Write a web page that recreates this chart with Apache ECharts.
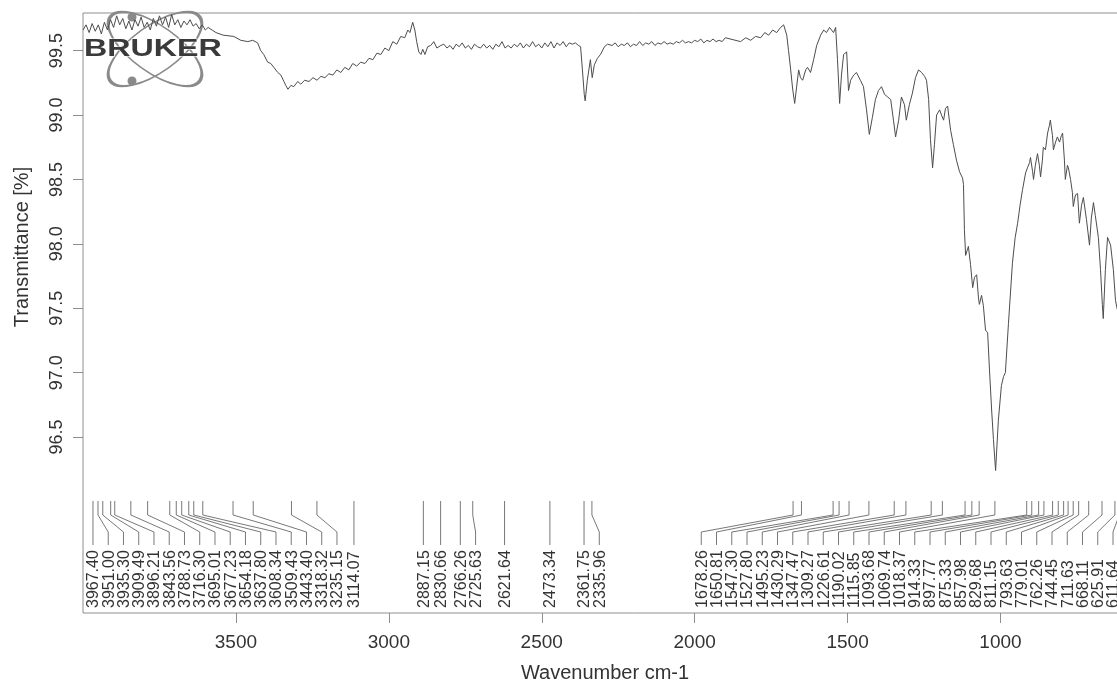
<!DOCTYPE html>
<html>
<head>
<meta charset="utf-8">
<title>IR spectrum</title>
<script src="https://cdn.jsdelivr.net/npm/echarts@6.0.0/dist/echarts.min.js"></script>
<style>
  html, body { margin: 0; padding: 0; background: #fff; overflow: hidden; }
  #main { width: 1200px; height: 682px; }
</style>
</head>
<body>
<div id="main"></div>
<script>
// spectrum, [wavenumber cm-1, transmittance %]
const specOH = [
  [4000, 99.66], [3990, 99.70], [3980, 99.64], [3970, 99.71], [3960, 99.65], [3950, 99.70],
  [3940, 99.63], [3930, 99.72], [3920, 99.66], [3910, 99.74], [3900, 99.68], [3890, 99.77],
  [3880, 99.70], [3870, 99.75], [3860, 99.67], [3850, 99.73], [3840, 99.66], [3830, 99.74],
  [3820, 99.69], [3810, 99.76], [3800, 99.68], [3790, 99.72], [3780, 99.66], [3770, 99.75],
  [3760, 99.69], [3750, 99.77], [3740, 99.70], [3730, 99.76], [3720, 99.68], [3710, 99.78],
  [3700, 99.70], [3690, 99.74], [3680, 99.68], [3670, 99.73], [3660, 99.70], [3650, 99.74],
  [3640, 99.69], [3630, 99.71], [3620, 99.67], [3610, 99.70], [3600, 99.66], [3591, 99.68],
  [3565, 99.64], [3542, 99.62], [3507, 99.61], [3484, 99.58], [3461, 99.57], [3445, 99.58],
  [3429, 99.56], [3419, 99.50], [3409, 99.47], [3396, 99.41], [3386, 99.40], [3376, 99.37],
  [3363, 99.33], [3353, 99.31], [3343, 99.26], [3337, 99.23], [3330, 99.20], [3320, 99.23],
  [3311, 99.22], [3298, 99.26], [3288, 99.24], [3275, 99.27], [3261, 99.26], [3248, 99.29],
  [3235, 99.27], [3222, 99.30], [3209, 99.29], [3196, 99.32], [3183, 99.31], [3170, 99.35],
  [3157, 99.33], [3144, 99.37], [3131, 99.35], [3118, 99.40], [3105, 99.38], [3092, 99.41],
  [3078, 99.40], [3065, 99.44], [3052, 99.43], [3039, 99.48], [3026, 99.47], [3013, 99.52],
  [3000, 99.50], [2987, 99.57], [2974, 99.55], [2961, 99.61], [2948, 99.60], [2938, 99.66],
  [2931, 99.64], [2922, 99.72], [2915, 99.66], [2909, 99.57], [2902, 99.49], [2895, 99.47],
  [2889, 99.51], [2882, 99.47], [2873, 99.53], [2863, 99.54], [2853, 99.57], [2843, 99.52],
  [2830, 99.54]
]
const specMid = [
  [2820, 99.55], [2810, 99.52], [2800, 99.54], [2790, 99.51], [2780, 99.55], [2770, 99.53],
  [2760, 99.56], [2750, 99.52], [2740, 99.54], [2730, 99.51], [2720, 99.55], [2710, 99.53],
  [2700, 99.52], [2690, 99.55], [2680, 99.52], [2670, 99.54], [2660, 99.51], [2650, 99.55],
  [2640, 99.53], [2630, 99.57], [2620, 99.52], [2610, 99.54], [2600, 99.52], [2590, 99.55],
  [2580, 99.53], [2570, 99.56], [2560, 99.52], [2550, 99.55], [2540, 99.53], [2530, 99.57],
  [2520, 99.53], [2510, 99.55], [2500, 99.52], [2490, 99.56], [2480, 99.53], [2470, 99.57],
  [2460, 99.52], [2450, 99.56], [2440, 99.54], [2430, 99.57], [2420, 99.53], [2410, 99.56],
  [2400, 99.55], [2390, 99.56], [2380, 99.54], [2373, 99.53], [2367, 99.35], [2361, 99.16],
  [2358, 99.11], [2351, 99.27], [2341, 99.43], [2335, 99.29], [2328, 99.39], [2318, 99.44],
  [2308, 99.47], [2295, 99.53], [2285, 99.55], [2270, 99.54], [2260, 99.56], [2250, 99.53],
  [2240, 99.55], [2230, 99.54], [2220, 99.56], [2210, 99.53], [2200, 99.55], [2190, 99.54],
  [2180, 99.57], [2170, 99.54], [2160, 99.56], [2150, 99.55], [2140, 99.57], [2130, 99.54],
  [2120, 99.56], [2110, 99.55], [2100, 99.57], [2090, 99.55], [2080, 99.56], [2070, 99.55],
  [2060, 99.57], [2050, 99.56], [2040, 99.58], [2030, 99.56], [2020, 99.57], [2010, 99.56],
  [2000, 99.58], [1990, 99.57], [1980, 99.59], [1970, 99.56], [1960, 99.58], [1950, 99.57],
  [1940, 99.59], [1930, 99.57], [1920, 99.58], [1910, 99.57], [1900, 99.60]
]
const specFinger = [
  [1850, 99.57], [1833, 99.60], [1817, 99.58], [1801, 99.61], [1784, 99.60], [1771, 99.64],
  [1758, 99.62], [1745, 99.66], [1732, 99.64], [1719, 99.68], [1709, 99.70], [1699, 99.62],
  [1693, 99.50], [1686, 99.35], [1680, 99.21], [1673, 99.09], [1667, 99.21], [1660, 99.35],
  [1654, 99.29], [1647, 99.27], [1637, 99.35], [1631, 99.37], [1621, 99.33], [1611, 99.43],
  [1601, 99.54], [1588, 99.62], [1578, 99.66], [1569, 99.64], [1559, 99.68], [1546, 99.64],
  [1539, 99.68], [1533, 99.43], [1526, 99.09], [1520, 99.31], [1513, 99.47], [1503, 99.49],
  [1497, 99.19], [1490, 99.27], [1480, 99.31], [1471, 99.33], [1458, 99.27], [1448, 99.22],
  [1438, 99.04], [1429, 98.85], [1419, 98.98], [1409, 99.12], [1399, 99.19], [1389, 99.22],
  [1379, 99.16], [1369, 99.14], [1359, 99.12], [1350, 98.96], [1343, 98.83], [1333, 98.96],
  [1324, 99.14], [1314, 99.08], [1308, 98.96], [1298, 99.08], [1288, 99.17], [1278, 99.29],
  [1268, 99.35], [1258, 99.33], [1248, 99.30], [1242, 99.27], [1235, 99.12], [1229, 98.81],
  [1222, 98.59], [1216, 98.77], [1209, 99.00], [1199, 99.04], [1193, 99.00], [1186, 98.96],
  [1180, 99.05], [1173, 99.07], [1163, 98.88], [1154, 98.77], [1144, 98.65], [1134, 98.56],
  [1124, 98.51], [1121, 98.46], [1118, 98.11], [1114, 97.91], [1108, 97.91], [1105, 97.98],
  [1098, 97.84], [1091, 97.66], [1085, 97.74], [1078, 97.76], [1072, 97.58], [1069, 97.53],
  [1062, 97.60], [1056, 97.52], [1049, 97.33], [1042, 97.31], [1036, 97.02], [1029, 96.71],
  [1023, 96.48], [1016, 96.24], [1007, 96.63], [997, 96.90], [990, 96.97], [984, 97.00],
  [974, 97.38], [961, 97.85], [952, 98.05], [944, 98.16], [936, 98.30], [928, 98.42],
  [918, 98.55], [912, 98.59], [905, 98.63], [902, 98.67], [895, 98.56], [892, 98.50],
  [886, 98.61], [879, 98.70], [873, 98.61], [869, 98.52], [863, 98.65], [860, 98.75],
  [853, 98.73], [846, 98.86], [840, 98.92], [837, 98.96], [830, 98.84], [827, 98.73],
  [820, 98.79], [814, 98.83], [807, 98.79], [801, 98.84], [797, 98.86], [791, 98.65],
  [788, 98.50], [781, 98.61], [778, 98.59], [771, 98.50], [765, 98.40], [762, 98.29],
  [755, 98.38], [748, 98.39], [742, 98.16], [735, 98.30], [729, 98.36], [719, 98.19],
  [709, 97.99], [703, 98.20], [696, 98.32], [690, 98.22], [680, 98.05], [673, 97.80],
  [667, 97.53], [664, 97.42], [657, 97.80], [650, 98.05], [640, 97.99], [631, 97.80],
  [624, 97.56], [618, 97.49], [608, 97.72]
]

// peak picking table
const peaksOH = [3967.40, 3951.00, 3935.30, 3909.49, 3896.21, 3843.56, 3788.73, 3716.30, 3695.01,
  3677.23, 3654.18, 3637.80, 3608.34, 3509.43, 3443.40, 3318.32, 3235.15, 3114.07]
const peaksMid = [2887.15, 2830.66, 2766.26, 2725.63, 2621.64, 2473.34, 2361.75, 2335.96]
const peaksFinger = [1678.26, 1650.81, 1547.30, 1527.80, 1495.23, 1430.29, 1347.47, 1309.27,
  1226.61, 1190.02, 1115.85, 1093.68, 1069.74, 1018.37, 914.33, 897.77, 875.33, 857.98, 829.68,
  811.15, 793.63, 779.01, 762.26, 744.45, 711.63, 668.11, 625.91, 611.64]

const xTicks = [3500, 3000, 2500, 2000, 1500, 1000]
const yTicks = [96.5, 97.0, 97.5, 98.0, 98.5, 99.0, 99.5]

const spectrum = specOH.concat(specMid, specFinger)
const peaks = peaksOH.concat(peaksMid, peaksFinger)

const FONT = '"Liberation Sans", Arial, Helvetica, sans-serif'
const LABEL_GAP = 15.25

// spread peak labels so they do not overlap (left->right, then pull back from the right end)
function peakLayout(api, rect) {
  const xs = peaks.map(w => api.coord([w, 97])[0])
  const pos = xs.slice()
  for (let i = 1; i < pos.length; i++) pos[i] = Math.max(pos[i], pos[i - 1] + LABEL_GAP)
  const lastMax = rect.x + rect.width - 71
  pos[pos.length - 1] = Math.min(pos[pos.length - 1], lastMax)
  for (let i = pos.length - 2; i >= 0; i--) pos[i] = Math.min(pos[i], pos[i + 1] - LABEL_GAP)
  return { xs, pos }
}

const myChart = echarts.init(document.getElementById('main'), null, { renderer: 'canvas' })

myChart.setOption({
  animation: false,
  backgroundColor: '#fff',
  grid: {
    left: 83, top: 13, right: 16, bottom: 69,
    show: true, borderColor: '#8e8e8e', borderWidth: 1
  },
  xAxis: {
    type: 'value', min: 400, max: 4000, inverse: true,
    axisLine: { show: false },
    splitLine: { show: false },
    axisTick: { customValues: xTicks, length: 10, lineStyle: { color: '#8e8e8e' } },
    axisLabel: {
      customValues: xTicks, margin: 20, fontSize: 19, color: '#333', fontFamily: FONT,
      formatter: v => String(v)
    }
  },
  yAxis: {
    type: 'value', min: 95.134, max: 99.792,
    axisLine: { show: false },
    splitLine: { show: false },
    axisTick: { customValues: yTicks, length: 10, lineStyle: { color: '#8e8e8e' } },
    axisLabel: {
      customValues: yTicks, rotate: 90, margin: 17, fontSize: 18, color: '#333', fontFamily: FONT,
      formatter: v => v.toFixed(1)
    }
  },
  graphic: [
    {
      type: 'text', x: 22, y: 247, rotation: Math.PI / 2,
      style: { text: 'Transmittance [%]', font: '20px ' + FONT, fill: '#333', textAlign: 'center', textVerticalAlign: 'middle' }
    },
    {
      type: 'text', x: 605, y: 673,
      style: { text: 'Wavenumber cm-1', font: '20px ' + FONT, fill: '#333', textAlign: 'center', textVerticalAlign: 'middle' }
    },
    // BRUKER logo
    {
      type: 'group', z: 20,
      children: [
        { type: 'circle', x: 155, y: 49, rotation: 0.62, scaleY: 0.42, shape: { cx: 0, cy: 0, r: 55 }, style: { fill: 'none', stroke: '#8a8a8a', lineWidth: 3.5 } },
        { type: 'circle', x: 155, y: 49, rotation: -0.62, scaleY: 0.42, shape: { cx: 0, cy: 0, r: 55 }, style: { fill: 'none', stroke: '#8a8a8a', lineWidth: 3.5 } },
        { type: 'circle', shape: { cx: 132, cy: 17, r: 4.5 }, style: { fill: '#8a8a8a' } },
        { type: 'circle', shape: { cx: 132, cy: 81, r: 4.5 }, style: { fill: '#8a8a8a' } },
        {
          type: 'text', x: 84, y: 50, scaleX: 1.4,
          style: { text: 'BRUKER', font: 'bold 23px ' + FONT, fill: '#3a3a3a', stroke: '#fff', lineWidth: 1, textVerticalAlign: 'middle' }
        }
      ]
    }
  ],
  series: [
    {
      type: 'line',
      data: spectrum,
      showSymbol: false,
      lineStyle: { color: '#4d4d4d', width: 1 },
      z: 3
    },
    {
      type: 'custom',
      data: peaks.map(w => [w, 97]),
      encode: { x: 0, y: 1 },
      clip: false,
      silent: true,
      renderItem: (params, api) => {
        const rect = params.coordSys
        const bottom = rect.y + rect.height
        const lay = peakLayout(api, rect)
        const px = lay.xs[params.dataIndex]
        const lx = lay.pos[params.dataIndex]
        return {
          type: 'group',
          children: [
            {
              type: 'polyline',
              shape: { points: [[px, bottom - 112], [px, bottom - 98], [lx, bottom - 81], [lx, bottom - 68]] },
              style: { stroke: '#555', lineWidth: 0.8, fill: null }
            },
            {
              type: 'text', x: lx + 1, y: bottom - 5, rotation: Math.PI / 2,
              style: {
                text: peaks[params.dataIndex].toFixed(2), font: '16px ' + FONT, fill: '#333',
                textAlign: 'left', textVerticalAlign: 'middle'
              }
            }
          ]
        }
      }
    }
  ]
})

window.addEventListener('resize', () => {
  myChart.resize()
})
</script>
</body>
</html>
